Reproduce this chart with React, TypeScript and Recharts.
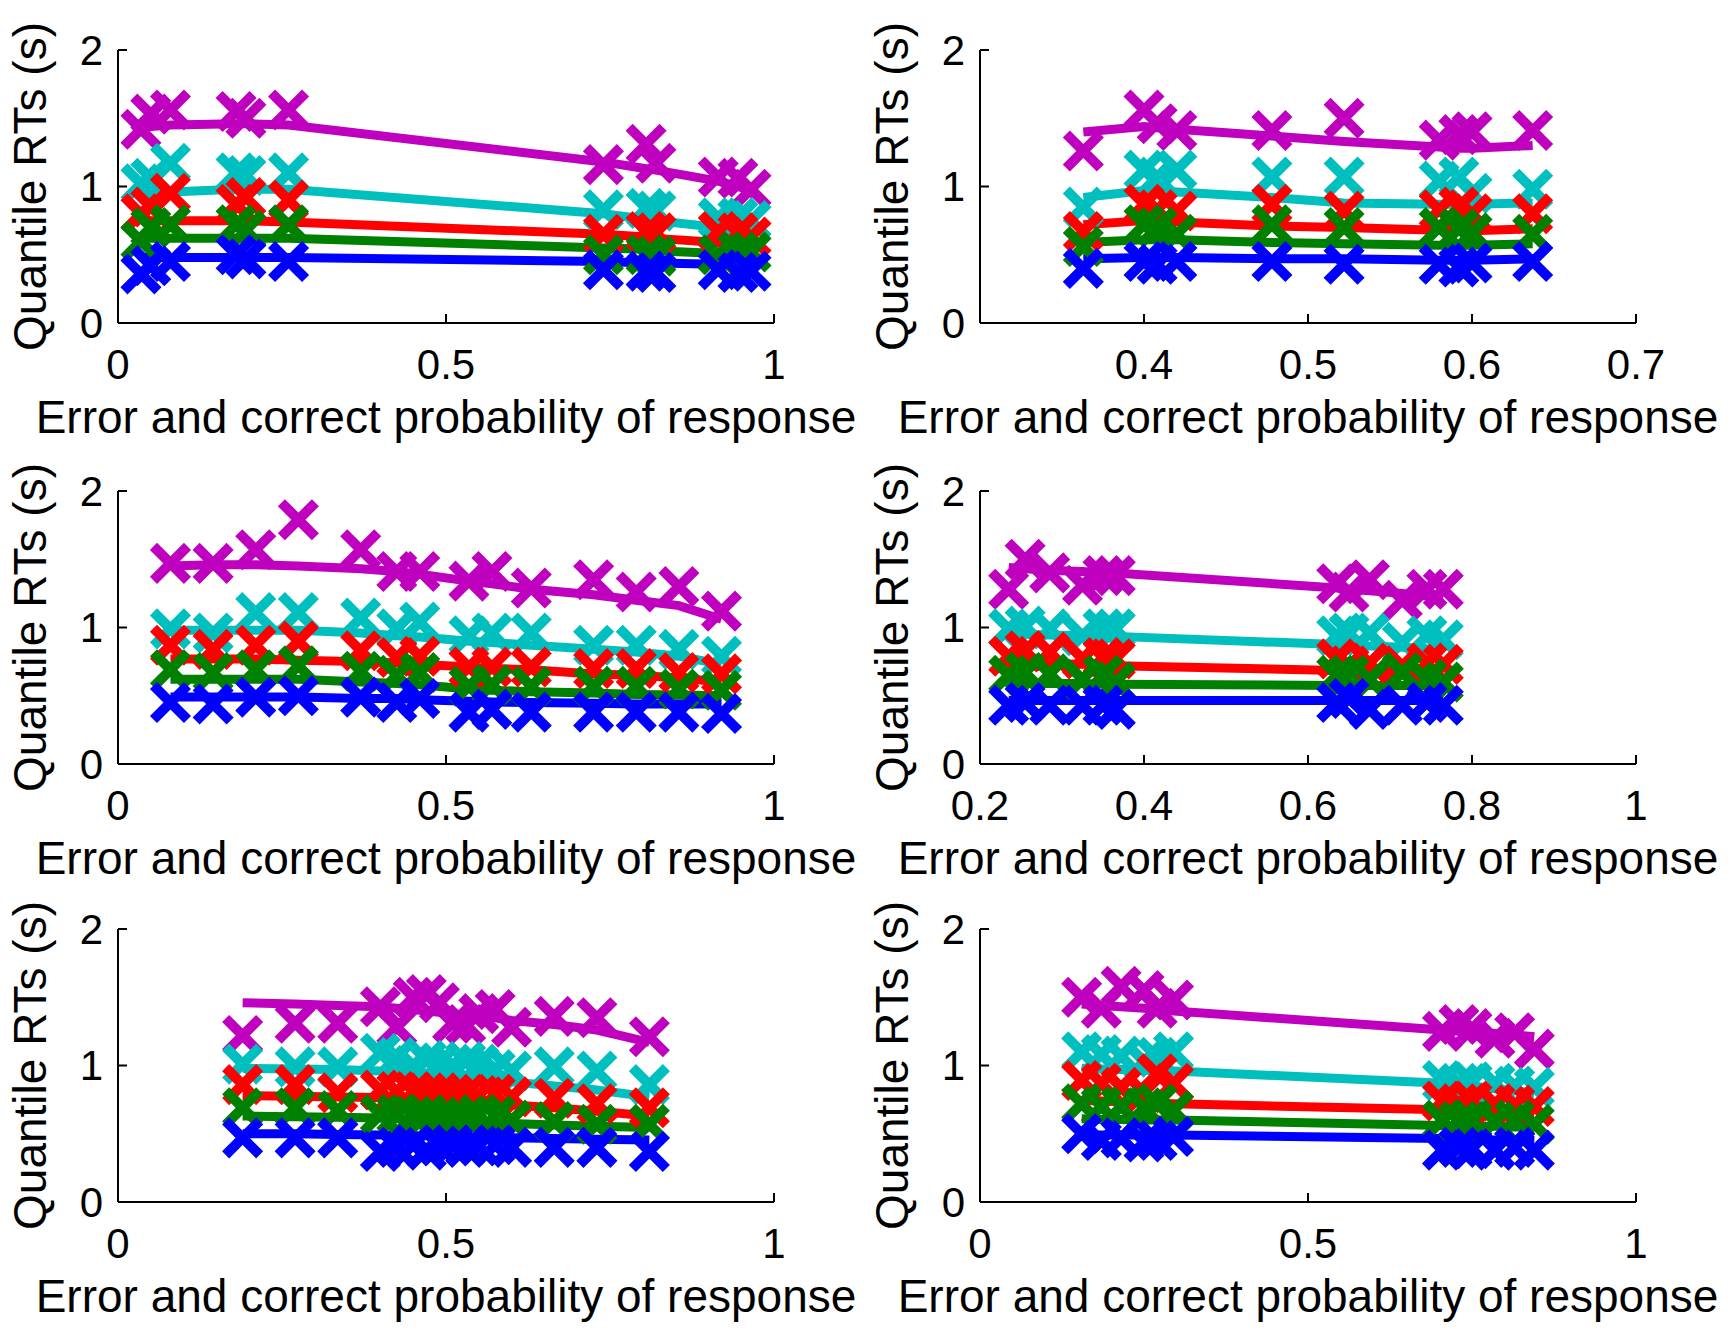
import { ComposedChart, Line, Scatter, XAxis, YAxis } from 'recharts';

// quantile colours, MATLAB style: 0.1 (b), 0.3 (g), 0.5 (r), 0.7 (c), 0.9 (m)
const quantColors = ['#0000FF', '#008000', '#FF0000', '#00BFBF', '#BF00BF'];

const xTitle = 'Error and correct probability of response';
const yTitle = 'Quantile RTs (s)';
const yTicks = [0, 1, 2];

// panel 1 (top left)
const p1X = [0.035, 0.05, 0.08, 0.18, 0.195, 0.26, 0.74, 0.805, 0.82, 0.915, 0.945, 0.965];
const p1Obs = [
    [0.36, 0.42, 0.45, 0.5, 0.47, 0.45, 0.39, 0.38, 0.37, 0.39, 0.37, 0.38],
    [0.6, 0.7, 0.72, 0.72, 0.68, 0.72, 0.5, 0.5, 0.49, 0.5, 0.52, 0.52],
    [0.8, 0.85, 0.95, 0.87, 0.92, 0.9, 0.65, 0.67, 0.66, 0.67, 0.66, 0.63],
    [1.02, 1.06, 1.17, 1.1, 1.08, 1.1, 0.83, 0.84, 0.82, 0.77, 0.77, 0.75],
    [1.42, 1.53, 1.56, 1.55, 1.5, 1.56, 1.16, 1.31, 1.17, 1.07, 1.06, 0.98],
];
const p1Fit = [
    [0.48, 0.48, 0.48, 0.48, 0.48, 0.48, 0.45, 0.44, 0.44, 0.43, 0.42, 0.42],
    [0.62, 0.62, 0.62, 0.62, 0.62, 0.62, 0.55, 0.54, 0.53, 0.51, 0.5, 0.49],
    [0.76, 0.75, 0.75, 0.75, 0.75, 0.74, 0.65, 0.63, 0.62, 0.59, 0.57, 0.55],
    [0.99, 0.97, 0.96, 0.98, 0.98, 0.98, 0.8, 0.76, 0.75, 0.7, 0.66, 0.6],
    [1.43, 1.44, 1.45, 1.46, 1.46, 1.45, 1.18, 1.13, 1.12, 1.04, 1.0, 0.97],
];

// panel 2 (top right)
const p2X = [0.363, 0.4, 0.408, 0.42, 0.478, 0.522, 0.58, 0.592, 0.6, 0.637];
const p2Obs = [
    [0.4, 0.45, 0.43, 0.45, 0.45, 0.43, 0.43, 0.41, 0.44, 0.45],
    [0.56, 0.72, 0.7, 0.65, 0.72, 0.7, 0.7, 0.69, 0.66, 0.65],
    [0.67, 0.87, 0.83, 0.82, 0.87, 0.82, 0.83, 0.85, 0.8, 0.8],
    [0.85, 1.12, 1.07, 1.12, 1.07, 1.07, 1.04, 1.07, 0.95, 0.98],
    [1.26, 1.56, 1.46, 1.41, 1.41, 1.5, 1.34, 1.38, 1.4, 1.41],
];
const p2Fit = [
    [0.47, 0.48, 0.48, 0.48, 0.47, 0.47, 0.46, 0.46, 0.46, 0.47],
    [0.59, 0.61, 0.61, 0.61, 0.59, 0.58, 0.57, 0.57, 0.57, 0.58],
    [0.72, 0.75, 0.75, 0.74, 0.71, 0.7, 0.68, 0.675, 0.675, 0.69],
    [0.92, 0.97, 0.97, 0.96, 0.92, 0.88, 0.87, 0.87, 0.87, 0.88],
    [1.4, 1.44, 1.43, 1.42, 1.37, 1.33, 1.29, 1.28, 1.28, 1.3],
];

// panel 3 (middle left)
const p3X = [0.08, 0.145, 0.21, 0.275, 0.37, 0.425, 0.46, 0.535, 0.57, 0.63, 0.725, 0.79, 0.855, 0.92];
const p3Obs = [
    [0.45, 0.44, 0.49, 0.5, 0.49, 0.45, 0.48, 0.38, 0.4, 0.38, 0.38, 0.38, 0.38, 0.37],
    [0.69, 0.67, 0.69, 0.72, 0.68, 0.65, 0.67, 0.57, 0.58, 0.57, 0.57, 0.57, 0.55, 0.54],
    [0.87, 0.84, 0.87, 0.9, 0.83, 0.78, 0.79, 0.71, 0.71, 0.71, 0.7, 0.7, 0.67, 0.66],
    [0.99, 0.96, 1.11, 1.11, 1.07, 0.99, 1.04, 0.94, 0.96, 0.96, 0.87, 0.87, 0.84, 0.79],
    [1.47, 1.47, 1.57, 1.79, 1.57, 1.41, 1.41, 1.34, 1.41, 1.29, 1.35, 1.26, 1.3, 1.12],
];
const p3Fit = [
    [0.49, 0.49, 0.49, 0.49, 0.48, 0.48, 0.47, 0.46, 0.455, 0.45, 0.445, 0.44, 0.44, 0.44],
    [0.62, 0.62, 0.62, 0.62, 0.6, 0.59, 0.58, 0.55, 0.54, 0.53, 0.52, 0.51, 0.505, 0.5],
    [0.77, 0.77, 0.77, 0.76, 0.75, 0.74, 0.73, 0.71, 0.7, 0.69, 0.66, 0.65, 0.63, 0.6],
    [0.98, 0.98, 0.98, 0.98, 0.96, 0.94, 0.93, 0.9, 0.89, 0.87, 0.84, 0.82, 0.79, 0.73],
    [1.45, 1.46, 1.46, 1.45, 1.43, 1.41, 1.39, 1.34, 1.32, 1.28, 1.24, 1.2, 1.16, 1.06],
];

// panel 4 (middle right)
const p4X = [0.235, 0.255, 0.285, 0.325, 0.35, 0.365, 0.635, 0.65, 0.675, 0.715, 0.745, 0.765];
const p4Obs = [
    [0.43, 0.45, 0.43, 0.43, 0.43, 0.4, 0.45, 0.48, 0.4, 0.43, 0.45, 0.43],
    [0.65, 0.67, 0.66, 0.62, 0.65, 0.6, 0.65, 0.65, 0.62, 0.67, 0.62, 0.6],
    [0.79, 0.83, 0.82, 0.77, 0.78, 0.77, 0.77, 0.72, 0.74, 0.72, 0.74, 0.73],
    [0.99, 1.01, 0.99, 0.94, 0.99, 0.99, 0.94, 0.96, 0.96, 0.89, 0.94, 0.91],
    [1.28, 1.5, 1.4, 1.31, 1.38, 1.38, 1.32, 1.26, 1.35, 1.2, 1.28, 1.28],
];
const p4Fit = [
    [0.465, 0.465, 0.465, 0.465, 0.465, 0.465, 0.465, 0.465, 0.465, 0.465, 0.465, 0.465],
    [0.59, 0.59, 0.59, 0.59, 0.585, 0.585, 0.575, 0.575, 0.575, 0.575, 0.575, 0.575],
    [0.74, 0.74, 0.735, 0.73, 0.725, 0.72, 0.685, 0.68, 0.68, 0.675, 0.67, 0.67],
    [0.95, 0.95, 0.945, 0.94, 0.94, 0.935, 0.875, 0.87, 0.865, 0.855, 0.845, 0.835],
    [1.44, 1.43, 1.42, 1.41, 1.4, 1.4, 1.29, 1.28, 1.27, 1.25, 1.23, 1.22],
];

// panel 5 (bottom left)
const p5X = [0.19, 0.27, 0.335, 0.4, 0.425, 0.45, 0.47, 0.49, 0.51, 0.53, 0.55, 0.575, 0.6, 0.665, 0.73, 0.81];
const p5Obs = [
    [0.47, 0.47, 0.47, 0.37, 0.4, 0.42, 0.38, 0.41, 0.42, 0.4, 0.41, 0.42, 0.4, 0.4, 0.4, 0.37],
    [0.69, 0.69, 0.67, 0.64, 0.64, 0.63, 0.64, 0.62, 0.61, 0.62, 0.64, 0.63, 0.6, 0.59, 0.57, 0.57],
    [0.86, 0.86, 0.8, 0.82, 0.81, 0.81, 0.8, 0.8, 0.79, 0.79, 0.78, 0.79, 0.77, 0.76, 0.72, 0.69],
    [1.01, 0.99, 0.99, 1.09, 1.06, 1.0, 1.04, 1.02, 1.0, 1.03, 1.01, 0.97, 0.96, 0.99, 0.96, 0.86],
    [1.22, 1.31, 1.31, 1.43, 1.28, 1.5, 1.52, 1.46, 1.31, 1.3, 1.38, 1.41, 1.28, 1.36, 1.35, 1.21],
];
const p5Fit = [
    [0.5, 0.5, 0.495, 0.49, 0.49, 0.485, 0.485, 0.48, 0.48, 0.475, 0.475, 0.47, 0.47, 0.465, 0.46, 0.455],
    [0.63, 0.625, 0.62, 0.615, 0.61, 0.605, 0.6, 0.6, 0.595, 0.59, 0.585, 0.58, 0.575, 0.565, 0.555, 0.545],
    [0.78, 0.775, 0.77, 0.765, 0.76, 0.755, 0.75, 0.745, 0.74, 0.735, 0.73, 0.72, 0.71, 0.69, 0.665, 0.63],
    [0.98, 0.975, 0.97, 0.96, 0.955, 0.95, 0.945, 0.935, 0.925, 0.915, 0.905, 0.895, 0.88, 0.85, 0.82, 0.77],
    [1.46, 1.45, 1.44, 1.43, 1.42, 1.41, 1.4, 1.39, 1.38, 1.37, 1.36, 1.35, 1.33, 1.3, 1.26, 1.17],
];

// panel 6 (bottom right)
const p6X = [0.155, 0.185, 0.215, 0.25, 0.27, 0.295, 0.705, 0.73, 0.75, 0.785, 0.815, 0.845];
const p6Obs = [
    [0.5, 0.45, 0.47, 0.44, 0.45, 0.48, 0.38, 0.4, 0.39, 0.38, 0.4, 0.38],
    [0.72, 0.7, 0.7, 0.69, 0.72, 0.67, 0.6, 0.59, 0.6, 0.59, 0.6, 0.57],
    [0.89, 0.87, 0.84, 0.8, 0.94, 0.87, 0.74, 0.72, 0.74, 0.72, 0.71, 0.7],
    [1.1, 1.08, 1.07, 1.03, 1.06, 1.1, 0.89, 0.87, 0.88, 0.87, 0.85, 0.84],
    [1.5, 1.42, 1.58, 1.55, 1.42, 1.48, 1.25, 1.3, 1.27, 1.2, 1.24, 1.12],
];
const p6Fit = [
    [0.49, 0.49, 0.49, 0.49, 0.49, 0.49, 0.465, 0.46, 0.46, 0.455, 0.455, 0.45],
    [0.61, 0.605, 0.605, 0.6, 0.6, 0.6, 0.56, 0.56, 0.555, 0.555, 0.55, 0.55],
    [0.745, 0.74, 0.735, 0.73, 0.725, 0.72, 0.675, 0.67, 0.67, 0.665, 0.66, 0.655],
    [0.98, 0.975, 0.97, 0.965, 0.96, 0.96, 0.87, 0.86, 0.85, 0.83, 0.815, 0.8],
    [1.45, 1.44, 1.43, 1.42, 1.41, 1.4, 1.26, 1.25, 1.245, 1.235, 1.225, 1.21],
];

const FONT = '"Liberation Sans", Arial, Helvetica, sans-serif';
const CELL_W = 866;
const CELL_H = 441;
const PLOT_L = 118;
const PLOT_W = 656;
const PLOT_T = 50;
const PLOT_H = 273;

interface PanelProps {
    left: number;
    top: number;
    xs: number[];
    obs: number[][];
    fit: number[][];
    domain: [number, number];
    ticks: number[];
}

const XMark = (props: any) => {
    const { cx, cy, fill } = props;
    if (cx == null || cy == null) return null;
    const h = 17;
    return (
        <path
            d={`M${cx - h},${cy - h}L${cx + h},${cy + h}M${cx - h},${cy + h}L${cx + h},${cy - h}`}
            stroke={fill}
            strokeWidth={10}
            fill="none"
        />
    );
};

function Panel({ left, top, xs, obs, fit, domain, ticks }: PanelProps) {
    // draw from the slowest quantile (magenta) down to the fastest (blue)
    const order = [4, 3, 2, 1, 0];
    const tickStyle = { fontSize: 42, fontFamily: FONT, fill: '#000' };
    const axisStroke = { stroke: '#000', strokeWidth: 2 };
    return (
        <div style={{ position: 'absolute', left, top, width: CELL_W, height: CELL_H }}>
            <ComposedChart
                width={CELL_W}
                height={CELL_H}
                margin={{ top: PLOT_T, left: PLOT_L - 50, right: CELL_W - PLOT_L - PLOT_W, bottom: CELL_H - PLOT_T - PLOT_H - 30 }}
            >
                <XAxis
                    type="number"
                    dataKey="x"
                    domain={domain}
                    ticks={ticks}
                    allowDataOverflow
                    height={30}
                    axisLine={axisStroke}
                    tickLine={axisStroke}
                    tickSize={-9}
                    tickMargin={35}
                    tick={tickStyle}
                    interval={0}
                />
                <YAxis
                    type="number"
                    domain={[0, 2]}
                    ticks={yTicks}
                    width={50}
                    axisLine={axisStroke}
                    tickLine={axisStroke}
                    tickSize={-9}
                    tickMargin={24}
                    tick={tickStyle}
                    interval={0}
                />
                {order.map((q) => [
                    <Scatter
                        key={`o${q}`}
                        data={xs.map((x, j) => ({ x, y: obs[q][j] }))}
                        dataKey="y"
                        fill={quantColors[q]}
                        shape={XMark}
                        isAnimationActive={false}
                    />,
                    <Line
                        key={`f${q}`}
                        data={xs.map((x, j) => ({ x, y: fit[q][j] }))}
                        dataKey="y"
                        type="linear"
                        stroke={quantColors[q]}
                        strokeWidth={9}
                        dot={false}
                        activeDot={false}
                        isAnimationActive={false}
                    />,
                ])}
            </ComposedChart>
            <svg
                width={CELL_W}
                height={CELL_H}
                overflow="visible"
                style={{ position: 'absolute', left: 0, top: 0, pointerEvents: 'none', overflow: 'visible' }}
            >
                <text
                    x={PLOT_L + PLOT_W / 2}
                    y={PLOT_T + PLOT_H + 110}
                    textAnchor="middle"
                    fontSize={46}
                    fontFamily={FONT}
                    fill="#000"
                >
                    {xTitle}
                </text>
                <text
                    transform={`translate(${PLOT_L - 72},${PLOT_T + PLOT_H / 2}) rotate(-90)`}
                    textAnchor="middle"
                    fontSize={46}
                    fontFamily={FONT}
                    fill="#000"
                >
                    {yTitle}
                </text>
            </svg>
        </div>
    );
}

export default function App() {
    return (
        <div style={{ position: 'absolute', left: 0, top: 0, width: 1732, height: 1330, background: '#fff' }}>
            <Panel left={0} top={0} xs={p1X} obs={p1Obs} fit={p1Fit} domain={[0, 1]} ticks={[0, 0.5, 1]} />
            <Panel left={862} top={0} xs={p2X} obs={p2Obs} fit={p2Fit} domain={[0.3, 0.7]} ticks={[0.4, 0.5, 0.6, 0.7]} />
            <Panel left={0} top={441} xs={p3X} obs={p3Obs} fit={p3Fit} domain={[0, 1]} ticks={[0, 0.5, 1]} />
            <Panel left={862} top={441} xs={p4X} obs={p4Obs} fit={p4Fit} domain={[0.2, 1]} ticks={[0.2, 0.4, 0.6, 0.8, 1]} />
            <Panel left={0} top={879} xs={p5X} obs={p5Obs} fit={p5Fit} domain={[0, 1]} ticks={[0, 0.5, 1]} />
            <Panel left={862} top={879} xs={p6X} obs={p6Obs} fit={p6Fit} domain={[0, 1]} ticks={[0, 0.5, 1]} />
        </div>
    );
}
